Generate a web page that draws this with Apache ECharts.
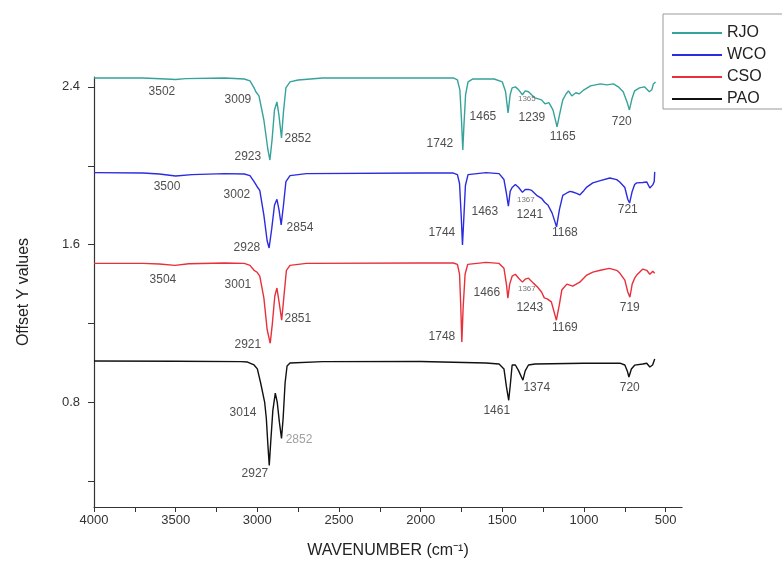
<!DOCTYPE html>
<html>
<head>
<meta charset="utf-8">
<script src="https://cdn.jsdelivr.net/npm/echarts@6/dist/echarts.min.js"></script>
<style>html,body{margin:0;padding:0;background:#fff}#c{width:782px;height:572px}</style>
</head>
<body>
<div id="c"></div>
<script>
// Series names
var seriesNames = ['RJO', 'WCO', 'CSO', 'PAO'];
var seriesColors = ['#35a39b', '#2b2be0', '#e8303a', '#111111'];

// Spectra: [wavenumber (cm-1), offset Y value]
var rjo = [[4000,2.445],[3700,2.445],[3560,2.44],[3500,2.437],[3440,2.442],[3200,2.445],[3080,2.44],[3045,2.43],[3020,2.395],[3009,2.375],[2990,2.354],[2960,2.232],[2935,2.08],[2923,2.029],[2910,2.13],[2895,2.283],[2880,2.324],[2868,2.258],[2852,2.141],[2840,2.273],[2825,2.395],[2800,2.425],[2750,2.435],[2600,2.445],[2000,2.445],[1800,2.445],[1775,2.435],[1760,2.385],[1750,2.232],[1742,2.08],[1735,2.207],[1725,2.36],[1710,2.425],[1680,2.44],[1550,2.44],[1500,2.425],[1480,2.375],[1465,2.268],[1452,2.36],[1440,2.395],[1420,2.4],[1400,2.385],[1377,2.36],[1360,2.38],[1340,2.375],[1300,2.344],[1260,2.334],[1239,2.314],[1215,2.32],[1190,2.283],[1165,2.197],[1150,2.258],[1130,2.334],[1110,2.364],[1095,2.38],[1075,2.354],[1050,2.37],[1030,2.364],[1000,2.385],[960,2.405],[900,2.415],[860,2.41],[820,2.415],[790,2.4],[760,2.375],[735,2.32],[722,2.283],[705,2.344],[690,2.38],[660,2.395],[630,2.4],[600,2.375],[585,2.385],[575,2.415],[562,2.425]];
var wco = [[4000,1.965],[3700,1.963],[3600,1.958],[3500,1.948],[3400,1.955],[3200,1.96],[3080,1.958],[3045,1.95],[3020,1.92],[3002,1.895],[2985,1.875],[2960,1.75],[2940,1.62],[2928,1.583],[2912,1.68],[2895,1.8],[2880,1.83],[2868,1.78],[2854,1.7],[2840,1.8],[2825,1.92],[2800,1.95],[2700,1.96],[2000,1.963],[1800,1.963],[1775,1.955],[1762,1.91],[1752,1.75],[1744,1.598],[1736,1.73],[1726,1.9],[1710,1.955],[1600,1.965],[1520,1.96],[1490,1.93],[1475,1.86],[1463,1.795],[1452,1.87],[1440,1.89],[1420,1.905],[1400,1.89],[1377,1.865],[1360,1.88],[1340,1.88],[1320,1.875],[1290,1.85],[1260,1.835],[1241,1.815],[1220,1.8],[1195,1.76],[1168,1.69],[1150,1.78],[1130,1.85],[1105,1.862],[1085,1.87],[1069,1.867],[1045,1.86],[1026,1.852],[1000,1.875],[983,1.892],[946,1.913],[900,1.925],[842,1.938],[800,1.93],[781,1.918],[750,1.89],[732,1.83],[721,1.811],[705,1.87],[690,1.905],[677,1.913],[640,1.915],[616,1.918],[597,1.887],[579,1.903],[570,1.92],[567,1.969]];
var cso = [[4000,1.505],[3700,1.505],[3600,1.502],[3504,1.495],[3420,1.503],[3200,1.507],[3080,1.505],[3045,1.495],[3020,1.47],[3001,1.46],[2985,1.44],[2960,1.33],[2940,1.17],[2921,1.1],[2908,1.2],[2893,1.34],[2880,1.38],[2867,1.31],[2851,1.217],[2838,1.33],[2822,1.47],[2800,1.495],[2700,1.505],[2000,1.507],[1800,1.507],[1775,1.5],[1762,1.45],[1755,1.3],[1748,1.106],[1740,1.28],[1728,1.45],[1712,1.5],[1600,1.51],[1520,1.505],[1490,1.48],[1475,1.4],[1466,1.329],[1455,1.4],[1440,1.44],[1420,1.45],[1400,1.43],[1377,1.41],[1360,1.425],[1340,1.43],[1310,1.405],[1285,1.385],[1260,1.36],[1243,1.33],[1225,1.325],[1200,1.31],[1169,1.217],[1150,1.3],[1136,1.37],[1105,1.4],[1069,1.39],[1026,1.41],[983,1.446],[946,1.461],[900,1.47],[845,1.48],[800,1.47],[781,1.456],[750,1.42],[732,1.36],[719,1.334],[705,1.4],[690,1.43],[677,1.446],[640,1.476],[616,1.47],[597,1.45],[579,1.465],[567,1.455]];
var pao = [[4000,1.01],[3500,1.009],[3100,1.007],[3060,1.005],[3020,0.99],[3000,0.97],[2980,0.9],[2955,0.8],[2945,0.72],[2935,0.58],[2927,0.481],[2918,0.6],[2905,0.76],[2890,0.847],[2878,0.8],[2865,0.7],[2852,0.618],[2842,0.72],[2830,0.9],[2818,0.985],[2800,1.0],[2600,1.007],[2000,1.008],[1600,1.0],[1520,0.995],[1490,0.97],[1475,0.88],[1461,0.811],[1450,0.9],[1440,0.99],[1420,0.99],[1400,0.96],[1374,0.913],[1360,0.96],[1340,0.99],[1300,0.995],[1000,0.999],[780,0.999],[750,0.99],[735,0.96],[725,0.929],[710,0.97],[690,0.989],[640,0.995],[616,0.999],[597,0.98],[580,0.99],[567,1.02]];

// Peak annotations: [wavenumber, value, text]
var rjoLabels = [[3584,2.375,'3502'],[3119,2.334,'3009'],[3058,2.045,'2923'],[2752,2.136,'2852'],[1882,2.111,'1742'],[1619,2.248,'1465'],[1319,2.243,'1239'],[1130,2.146,'1165'],[769,2.222,'720']];
var wcoLabels = [[3553,1.892,'3500'],[3125,1.852,'3002'],[3064,1.583,'2928'],[2739,1.684,'2854'],[1870,1.659,'1744'],[1607,1.765,'1463'],[1332,1.75,'1241'],[1117,1.659,'1168'],[732,1.776,'721']];
var csoLabels = [[3578,1.42,'3504'],[3119,1.395,'3001'],[3058,1.095,'2921'],[2752,1.227,'2851'],[1870,1.131,'1748'],[1595,1.354,'1466'],[1332,1.278,'1243'],[1117,1.177,'1169'],[720,1.283,'719']];
var paoLabels = [[3088,0.75,'3014'],[3015,0.441,'2927'],[1534,0.76,'1461'],[1289,0.877,'1374'],[720,0.877,'720']];
var smallLabels = [[1350,2.339,'1365'],[1356,1.826,'1367'],[1350,1.375,'1367']];
var greyLabels = [[2745,0.613,'2852']];

// Axis ticks
var xLabelValues = [4000,3500,3000,2500,2000,1500,1000,500];
var xTickValues = [4000,3750,3500,3250,3000,2750,2500,2250,2000,1750,1500,1250,1000,750,500];
var yLabelValues = [0.8,1.6,2.4];
var yTickValues = [0.4,0.8,1.2,1.6,2.0,2.4];

var FONT = 'Liberation Sans, Arial, sans-serif';
var chart = echarts.init(document.getElementById('c'), null, {renderer: 'canvas'});

function lineSeries(name, data, color) {
  return {name: name, type: 'line', data: data, symbol: 'none', showSymbol: false,
    lineStyle: {color: color, width: 1.4}, itemStyle: {color: color}, animation: false, z: 2};
}
function labelSeries(data, size, color) {
  return {name: 'labels', type: 'scatter', data: data, symbolSize: 1,
    itemStyle: {color: 'rgba(0,0,0,0)'}, silent: true, animation: false, z: 5,
    label: {show: true, position: 'inside', formatter: function (p) { return p.data[2]; },
      fontFamily: FONT, fontSize: size, color: color}};
}

var option = {
  backgroundColor: '#fff',
  animation: false,
  grid: {left: 94, right: 100, top: 77, bottom: 65},
  legend: {
    data: seriesNames, orient: 'vertical', left: 663, top: 14,
    icon: 'rect', itemWidth: 50, itemHeight: 2, itemGap: 6,
    padding: [11, 60, 2, 9],
    borderColor: '#999', borderWidth: 1,
    textStyle: {fontFamily: FONT, fontSize: 16, color: '#222', lineHeight: 16}
  },
  xAxis: {
    type: 'value', inverse: true, min: 400, max: 4000,
    name: 'WAVENUMBER (cm⁻¹)', nameLocation: 'middle', nameGap: 36,
    nameTextStyle: {fontFamily: FONT, fontSize: 16, color: '#222'},
    axisLine: {show: true, lineStyle: {color: '#333', width: 1.2}},
    axisTick: {show: true, length: 5, customValues: xTickValues, lineStyle: {color: '#333'}},
    axisLabel: {customValues: xLabelValues, margin: 7, fontFamily: FONT, fontSize: 13, color: '#333',
      formatter: function (v) { return String(v); }},
    splitLine: {show: false}
  },
  yAxis: {
    type: 'value', min: 0.27, max: 2.45,
    name: 'Offset Y values', nameLocation: 'middle', nameGap: 62, nameRotate: 90,
    nameTextStyle: {fontFamily: FONT, fontSize: 16, color: '#222'},
    axisLine: {show: true, lineStyle: {color: '#333', width: 1.2}},
    axisTick: {show: true, length: 6, customValues: yTickValues, lineStyle: {color: '#333'}},
    axisLabel: {customValues: yLabelValues, margin: 14, fontFamily: FONT, fontSize: 13, color: '#333'},
    splitLine: {show: false}
  },
  series: [
    lineSeries('RJO', rjo, seriesColors[0]),
    lineSeries('WCO', wco, seriesColors[1]),
    lineSeries('CSO', cso, seriesColors[2]),
    lineSeries('PAO', pao, seriesColors[3]),
    labelSeries(rjoLabels, 12, '#222'),
    labelSeries(wcoLabels, 12, '#222'),
    labelSeries(csoLabels, 12, '#222'),
    labelSeries(paoLabels, 12, '#222'),
    labelSeries(smallLabels, 8, '#555'),
    labelSeries(greyLabels, 12, '#888')
  ]
};
chart.setOption(option);
</script>
</body>
</html>
